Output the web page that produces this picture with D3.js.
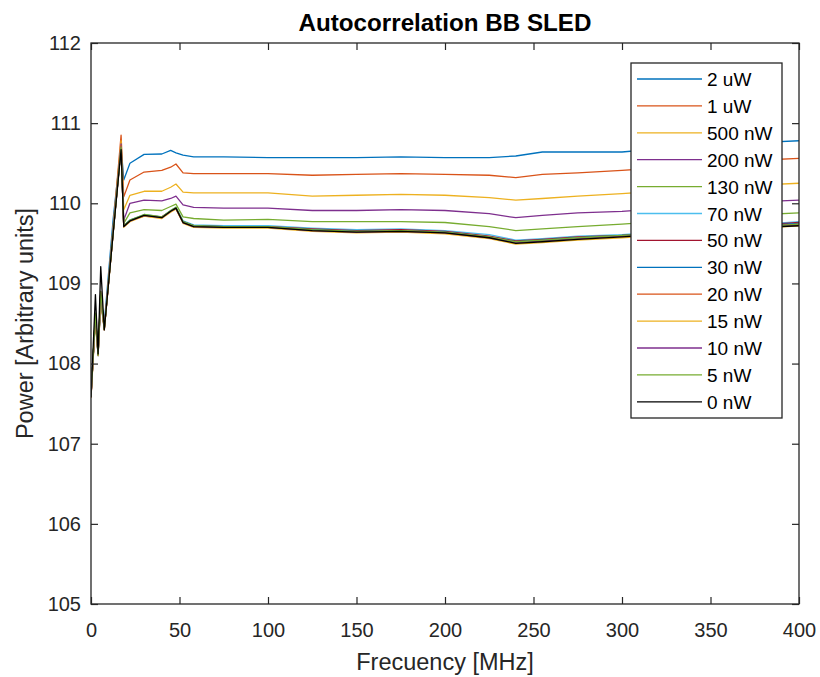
<!DOCTYPE html>
<html>
<head>
<meta charset="utf-8">
<script src="https://cdn.jsdelivr.net/npm/d3@7"></script>
<style>
	body { margin: 0; background: #ffffff; }
	text { font-family: "Liberation Sans", Arial, sans-serif; fill: #262626; }
	.tickLabel { font-size: 20px; }
	.axisLabel { font-size: 23.5px; }
	.title { font-size: 24.2px; font-weight: bold; fill: #000000; }
	.legendLabel { font-size: 19px; fill: #000000; }
</style>
</head>
<body>
<script>

//frequency grid (MHz) and power for every laser level
var freq = [0, 2.5, 4, 5.5, 7.5, 12.5, 17, 18.5, 22, 30, 40, 45, 48, 52, 58, 75, 100, 125, 150, 175, 200, 225, 240, 255, 275, 300, 320, 350, 380, 400];

var labels = ["2 uW", "1 uW", "500 nW", "200 nW", "130 nW", "70 nW", "50 nW", "30 nW", "20 nW", "15 nW", "10 nW", "5 nW", "0 nW"];

var p2uW   = [107.63, 108.55, 108.15, 108.80, 108.50, 109.80, 110.72, 110.29, 110.50, 110.61, 110.615, 110.66, 110.63, 110.60, 110.58, 110.58, 110.57, 110.57, 110.57, 110.58, 110.57, 110.57, 110.59, 110.64, 110.64, 110.64, 110.68, 110.72, 110.76, 110.78];
var p1uW   = [107.60, 108.60, 108.10, 108.80, 108.45, 109.70, 110.85, 110.08, 110.29, 110.39, 110.41, 110.45, 110.49, 110.38, 110.37, 110.37, 110.37, 110.35, 110.36, 110.37, 110.36, 110.35, 110.32, 110.36, 110.38, 110.41, 110.44, 110.49, 110.54, 110.56];
var p500nW = [107.60, 108.55, 108.12, 108.78, 108.44, 109.68, 110.78, 109.92, 110.10, 110.15, 110.15, 110.20, 110.24, 110.14, 110.13, 110.13, 110.13, 110.09, 110.10, 110.11, 110.10, 110.07, 110.04, 110.06, 110.09, 110.12, 110.15, 110.19, 110.23, 110.25];
var p200nW = [107.58, 108.58, 108.10, 108.80, 108.42, 109.66, 110.74, 109.79, 110.00, 110.04, 110.03, 110.06, 110.09, 109.98, 109.95, 109.94, 109.94, 109.91, 109.91, 109.92, 109.91, 109.87, 109.82, 109.85, 109.88, 109.90, 109.93, 109.97, 110.02, 110.04];
var p130nW = [107.59, 108.60, 108.11, 108.82, 108.43, 109.65, 110.71, 109.75, 109.88, 109.92, 109.91, 109.96, 109.99, 109.83, 109.81, 109.79, 109.80, 109.77, 109.77, 109.77, 109.76, 109.71, 109.66, 109.68, 109.71, 109.74, 109.77, 109.81, 109.86, 109.88];
var p70nW  = [107.60, 108.60, 108.10, 108.85, 108.45, 109.64, 110.70, 109.72, 109.79, 109.86, 109.83, 109.91, 109.95, 109.78, 109.73, 109.72, 109.72, 109.69, 109.67, 109.68, 109.66, 109.61, 109.54, 109.56, 109.59, 109.61, 109.64, 109.69, 109.74, 109.77];
var p50nW  = [107.58, 108.62, 108.12, 108.90, 108.43, 109.63, 110.69, 109.71, 109.78, 109.85, 109.83, 109.90, 109.94, 109.77, 109.72, 109.71, 109.71, 109.68, 109.66, 109.67, 109.65, 109.59, 109.53, 109.55, 109.58, 109.60, 109.63, 109.68, 109.73, 109.76];
var p30nW  = [107.60, 108.58, 108.10, 108.86, 108.44, 109.64, 110.70, 109.72, 109.79, 109.85, 109.82, 109.90, 109.94, 109.77, 109.72, 109.71, 109.70, 109.67, 109.65, 109.66, 109.64, 109.58, 109.52, 109.54, 109.57, 109.60, 109.62, 109.67, 109.72, 109.75];
var p20nW  = [107.59, 108.60, 108.11, 108.88, 108.43, 109.63, 110.72, 109.71, 109.78, 109.84, 109.82, 109.90, 109.93, 109.76, 109.71, 109.70, 109.70, 109.66, 109.64, 109.66, 109.63, 109.58, 109.51, 109.53, 109.56, 109.59, 109.62, 109.66, 109.71, 109.74];
var p15nW  = [107.57, 108.55, 108.10, 108.84, 108.42, 109.62, 110.69, 109.70, 109.77, 109.84, 109.81, 109.89, 109.93, 109.75, 109.70, 109.69, 109.69, 109.65, 109.63, 109.64, 109.62, 109.56, 109.49, 109.51, 109.54, 109.57, 109.60, 109.64, 109.69, 109.72];
var p10nW  = [107.58, 108.60, 108.12, 108.87, 108.44, 109.63, 110.70, 109.71, 109.78, 109.85, 109.82, 109.90, 109.94, 109.76, 109.71, 109.70, 109.70, 109.66, 109.64, 109.65, 109.63, 109.57, 109.51, 109.53, 109.56, 109.59, 109.61, 109.66, 109.70, 109.73];
var p5nW   = [107.59, 108.63, 108.11, 108.90, 108.43, 109.63, 110.70, 109.72, 109.79, 109.86, 109.83, 109.91, 109.95, 109.77, 109.72, 109.71, 109.71, 109.67, 109.65, 109.66, 109.64, 109.58, 109.52, 109.54, 109.57, 109.60, 109.62, 109.67, 109.71, 109.74];
var p0nW   = [107.58, 108.86, 108.12, 109.21, 108.42, 109.62, 110.67, 109.71, 109.78, 109.85, 109.82, 109.90, 109.94, 109.76, 109.71, 109.70, 109.70, 109.66, 109.64, 109.65, 109.63, 109.57, 109.50, 109.52, 109.55, 109.58, 109.61, 109.65, 109.70, 109.72];

var seriesValues = [p2uW, p1uW, p500nW, p200nW, p130nW, p70nW, p50nW, p30nW, p20nW, p15nW, p10nW, p5nW, p0nW];

var colors = ["#0072BD", "#D95319", "#EDB120", "#7E2F8E", "#77AC30", "#4DBEEE", "#A2142F",
	"#0072BD", "#D95319", "#EDB120", "#7E2F8E", "#77AC30", "#000000"];

var xTicks = [0, 50, 100, 150, 200, 250, 300, 350, 400];
var yTicks = [105, 106, 107, 108, 109, 110, 111, 112];

var WIDTH = 820;
var HEIGHT = 677;

var PLOT_LEFT = 91;
var PLOT_RIGHT = 799;
var PLOT_TOP = 43;
var PLOT_BOTTOM = 604;
var TICK_LENGTH = 7;
var AXIS_COLOR = "#262626";

var LEGEND_X = 631;
var LEGEND_Y = 63;
var LEGEND_WIDTH = 151;
var LEGEND_HEIGHT = 355;
var LEGEND_ROW = 26.9;

var svg = d3.select("body").append("svg")
	.attr("width", WIDTH)
	.attr("height", HEIGHT);

var x = d3.scaleLinear().domain([0, 400]).range([PLOT_LEFT, PLOT_RIGHT]);
var y = d3.scaleLinear().domain([105, 112]).range([PLOT_BOTTOM, PLOT_TOP]);

svg.append("clipPath")
	.attr("id", "plotClip")
	.append("rect")
	.attr("x", PLOT_LEFT)
	.attr("y", PLOT_TOP)
	.attr("width", PLOT_RIGHT - PLOT_LEFT)
	.attr("height", PLOT_BOTTOM - PLOT_TOP);

//lines, drawn in series order so black ends on top
var line = d3.line()
	.x(function(d, i) { return x(freq[i]); })
	.y(function(d) { return y(d); });

svg.append("g")
	.attr("clip-path", "url(#plotClip)")
	.selectAll(".seriesLine")
	.data(seriesValues)
	.enter()
	.append("path")
	.attr("class", "seriesLine")
	.attr("fill", "none")
	.attr("stroke", function(d, i) { return colors[i]; })
	.attr("stroke-width", 1.3)
	.attr("stroke-linejoin", "round")
	.attr("d", line);

//axes box with inward ticks on all sides
function styleAxis(g) {
	g.select(".domain").remove();
	g.selectAll(".tick line").attr("stroke", AXIS_COLOR).attr("stroke-width", 1.2);
	g.selectAll(".tick text").attr("class", "tickLabel").attr("fill", AXIS_COLOR);
	g.attr("font-family", null).attr("font-size", null);
}

svg.append("g")
	.attr("transform", "translate(0," + PLOT_BOTTOM + ")")
	.call(d3.axisBottom(x).tickValues(xTicks).tickSizeInner(-TICK_LENGTH).tickPadding(19))
	.call(styleAxis);

svg.append("g")
	.attr("transform", "translate(0," + PLOT_TOP + ")")
	.call(d3.axisTop(x).tickValues(xTicks).tickSizeInner(-TICK_LENGTH).tickFormat(""))
	.call(styleAxis);

svg.append("g")
	.attr("transform", "translate(" + PLOT_LEFT + ",0)")
	.call(d3.axisLeft(y).tickValues(yTicks).tickFormat(d3.format("d")).tickSizeInner(-TICK_LENGTH).tickPadding(10))
	.call(styleAxis);

svg.append("g")
	.attr("transform", "translate(" + PLOT_RIGHT + ",0)")
	.call(d3.axisRight(y).tickValues(yTicks).tickSizeInner(-TICK_LENGTH).tickFormat(""))
	.call(styleAxis);

svg.append("rect")
	.attr("x", PLOT_LEFT)
	.attr("y", PLOT_TOP)
	.attr("width", PLOT_RIGHT - PLOT_LEFT)
	.attr("height", PLOT_BOTTOM - PLOT_TOP)
	.attr("fill", "none")
	.attr("stroke", AXIS_COLOR)
	.attr("stroke-width", 1.3);

//title and axis labels
svg.append("text")
	.attr("class", "title")
	.attr("x", (PLOT_LEFT + PLOT_RIGHT) / 2)
	.attr("y", 31)
	.attr("text-anchor", "middle")
	.text("Autocorrelation BB SLED");

svg.append("text")
	.attr("class", "axisLabel")
	.attr("x", (PLOT_LEFT + PLOT_RIGHT) / 2)
	.attr("y", 670)
	.attr("text-anchor", "middle")
	.text("Frecuency [MHz]");

svg.append("text")
	.attr("class", "axisLabel")
	.attr("transform", "translate(33," + ((PLOT_TOP + PLOT_BOTTOM) / 2) + ") rotate(-90)")
	.attr("text-anchor", "middle")
	.text("Power [Arbitrary units]");

//legend
var legend = svg.append("g")
	.attr("transform", "translate(" + LEGEND_X + "," + LEGEND_Y + ")");

legend.append("rect")
	.attr("width", LEGEND_WIDTH)
	.attr("height", LEGEND_HEIGHT)
	.attr("fill", "#ffffff")
	.attr("stroke", AXIS_COLOR)
	.attr("stroke-width", 1.3);

legend.selectAll(".legendItem")
	.data(labels)
	.enter()
	.append("g")
	.attr("class", "legendItem")
	.attr("transform", function(d, i) {
		return "translate(0," + (16 + i * LEGEND_ROW) + ")";
	})
	.each(function(d, i) {
		d3.select(this)
			.append("line")
			.attr("x1", 6)
			.attr("x2", 71)
			.attr("stroke", colors[i])
			.attr("stroke-width", 1.3);

		d3.select(this)
			.append("text")
			.attr("class", "legendLabel")
			.attr("x", 76)
			.attr("y", 7)
			.text(d);
	});

</script>
</body>
</html>
